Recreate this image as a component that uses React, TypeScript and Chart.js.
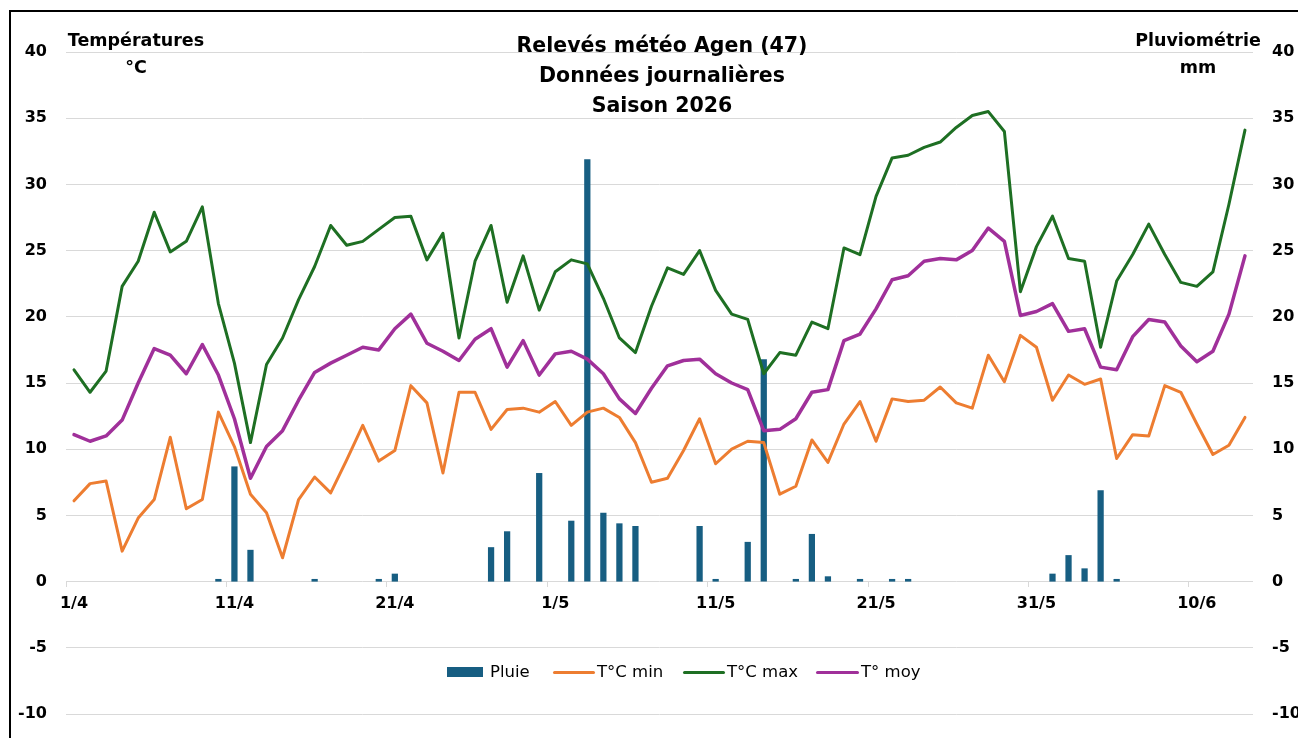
import React, { useEffect, useRef } from 'react';
import { Chart, registerables } from 'chart.js';

Chart.register(...registerables);

// Categories (one per day, 1/4 -> 13/6)
const dates = [
  '1/4', '2/4', '3/4', '4/4', '5/4', '6/4', '7/4', '8/4', '9/4', '10/4',
  '11/4', '12/4', '13/4', '14/4', '15/4', '16/4', '17/4', '18/4', '19/4', '20/4',
  '21/4', '22/4', '23/4', '24/4', '25/4', '26/4', '27/4', '28/4', '29/4', '30/4',
  '1/5', '2/5', '3/5', '4/5', '5/5', '6/5', '7/5', '8/5', '9/5', '10/5',
  '11/5', '12/5', '13/5', '14/5', '15/5', '16/5', '17/5', '18/5', '19/5', '20/5',
  '21/5', '22/5', '23/5', '24/5', '25/5', '26/5', '27/5', '28/5', '29/5', '30/5',
  '31/5', '1/6', '2/6', '3/6', '4/6', '5/6', '6/6', '7/6', '8/6', '9/6',
  '10/6', '11/6', '12/6', '13/6',
];

// Tick labels shown on the date axis
const tickLabels = ['1/4', '11/4', '21/4', '1/5', '11/5', '21/5', '31/5', '10/6'];

// Pluie (mm)
const pluie = [
  0, 0, 0, 0, 0, 0, 0, 0, 0, 0.2,
  8.7, 2.4, 0, 0, 0, 0.2, 0, 0, 0, 0.2,
  0.6, 0, 0, 0, 0, 0, 2.6, 3.8, 0, 8.2,
  0, 4.6, 31.9, 5.2, 4.4, 4.2, 0, 0, 0, 4.2,
  0.2, 0, 3.0, 16.8, 0, 0.2, 3.6, 0.4, 0, 0.2,
  0, 0.2, 0.2, 0, 0, 0, 0, 0, 0, 0,
  0, 0.6, 2.0, 1.0, 6.9, 0.2, 0, 0, 0, 0,
  0, 0, 0, 0,
];

// T°C min
const tMin = [
  6.1, 7.4, 7.6, 2.3, 4.8, 6.2, 10.9, 5.5, 6.2, 12.8,
  10.2, 6.6, 5.2, 1.8, 6.2, 7.9, 6.7, 9.2, 11.8, 9.1,
  9.9, 14.8, 13.5, 8.2, 14.3, 14.3, 11.5, 13.0, 13.1, 12.8,
  13.6, 11.8, 12.8, 13.1, 12.4, 10.5, 7.5, 7.8, 9.9, 12.3,
  8.9, 10.0, 10.6, 10.5, 6.6, 7.2, 10.7, 9.0, 11.9, 13.6,
  10.6, 13.8, 13.6, 13.7, 14.7, 13.5, 13.1, 17.1, 15.1, 18.6,
  17.7, 13.7, 15.6, 14.9, 15.3, 9.3, 11.1, 11.0, 14.8, 14.3,
  11.9, 9.6, 10.3, 12.4,
];

// T°C max
const tMax = [
  16.0, 14.3, 15.9, 22.3, 24.2, 27.9, 24.9, 25.7, 28.3, 21.0,
  16.5, 10.5, 16.4, 18.4, 21.3, 23.8, 26.9, 25.4, 25.7, 26.6,
  27.5, 27.6, 24.3, 26.3, 18.4, 24.2, 26.9, 21.1, 24.6, 20.5,
  23.4, 24.3, 24.0, 21.4, 18.4, 17.3, 20.8, 23.7, 23.2, 25.0,
  22.0, 20.2, 19.8, 15.7, 17.3, 17.1, 19.6, 19.1, 25.2, 24.7,
  29.1, 32.0, 32.2, 32.8, 33.2, 34.3, 35.2, 35.5, 34.0, 21.9,
  25.3, 27.6, 24.4, 24.2, 17.7, 22.7, 24.7, 27.0, 24.7, 22.6,
  22.3, 23.4, 28.5, 34.1,
];

// T° moy
const tMoy = [
  11.1, 10.6, 11.0, 12.2, 15.0, 17.6, 17.1, 15.7, 17.9, 15.6,
  12.3, 7.8, 10.2, 11.4, 13.7, 15.8, 16.5, 17.1, 17.7, 17.5,
  19.1, 20.2, 18.0, 17.4, 16.7, 18.3, 19.1, 16.2, 18.2, 15.6,
  17.2, 17.4, 16.8, 15.7, 13.8, 12.7, 14.6, 16.3, 16.7, 16.8,
  15.7, 15.0, 14.5, 11.4, 11.5, 12.3, 14.3, 14.5, 18.2, 18.7,
  20.6, 22.8, 23.1, 24.2, 24.4, 24.3, 25.0, 26.7, 25.7, 20.1,
  20.4, 21.0, 18.9, 19.1, 16.2, 16.0, 18.5, 19.8, 19.6, 17.8,
  16.6, 17.4, 20.2, 24.6,
];

const BLUE = '#175E82';
const ORANGE = '#ED7D31';
const GREEN = '#1E6F23';
const PURPLE = '#A0309A';
const GRID = '#D9D9D9';
const FONT = "'DejaVu Sans', sans-serif";

export default function App() {
  const ref = useRef<HTMLCanvasElement>(null);

  useEffect(() => {
    const canvas = ref.current;
    if (!canvas) return;
    const tickFont = { family: FONT, size: 16, weight: 'bold' as const };
    const chart = new Chart(canvas, {
      type: 'bar',
      data: {
        labels: dates,
        datasets: [
          {
            type: 'line',
            label: 'T° moy',
            data: tMoy,
            borderColor: PURPLE,
            backgroundColor: PURPLE,
            borderWidth: 3.5,
            pointRadius: 0,
            borderJoinStyle: 'round',
            borderCapStyle: 'round',
            yAxisID: 'y',
            order: 1,
          },
          {
            type: 'line',
            label: 'T°C max',
            data: tMax,
            borderColor: GREEN,
            backgroundColor: GREEN,
            borderWidth: 3,
            pointRadius: 0,
            borderJoinStyle: 'round',
            borderCapStyle: 'round',
            yAxisID: 'y',
            order: 2,
          },
          {
            type: 'line',
            label: 'T°C min',
            data: tMin,
            borderColor: ORANGE,
            backgroundColor: ORANGE,
            borderWidth: 3,
            pointRadius: 0,
            borderJoinStyle: 'round',
            borderCapStyle: 'round',
            yAxisID: 'y',
            order: 3,
          },
          {
            type: 'bar',
            label: 'Pluie',
            data: pluie,
            backgroundColor: BLUE,
            borderWidth: 0,
            yAxisID: 'y1',
            barPercentage: 0.39,
            categoryPercentage: 1,
            order: 4,
          },
        ],
      },
      options: {
        responsive: false,
        animation: false,
        layout: { padding: { top: 52, bottom: 24, left: 0, right: 0 } },
        plugins: {
          legend: { display: false },
          tooltip: { enabled: false },
          title: { display: false },
        },
        scales: {
          x: {
            position: { y: 0 } as any,
            offset: true,
            grid: {
              offset: true,
              drawOnChartArea: false,
              drawTicks: true,
              tickLength: 5,
              color: GRID,
              tickColor: (c: any) => (c.index % 10 === 0 ? GRID : 'rgba(0,0,0,0)'),
            },
            border: { display: false },
            ticks: {
              autoSkip: false,
              maxRotation: 0,
              minRotation: 0,
              padding: 8,
              color: '#000',
              font: tickFont,
              callback: (_v: any, idx: number) => (tickLabels.includes(dates[idx]) ? dates[idx] : ''),
            },
            afterFit: (s: any) => {
              s.height = 0;
            },
          },
          y: {
            position: 'left',
            min: -10,
            max: 40,
            ticks: { stepSize: 5, padding: 19, color: '#000', font: tickFont },
            grid: { color: GRID, lineWidth: 1, drawTicks: false },
            border: { display: false },
            afterFit: (s: any) => {
              s.width = 66;
              s.paddingTop = 0;
              s.paddingBottom = 0;
            },
          },
          y1: {
            position: 'right',
            min: -10,
            max: 40,
            ticks: { stepSize: 5, padding: 19, color: '#000', font: tickFont },
            grid: { display: false, drawTicks: false },
            border: { display: false },
            afterFit: (s: any) => {
              s.width = 45;
              s.paddingTop = 0;
              s.paddingBottom = 0;
            },
          },
        },
      },
    });
    return () => chart.destroy();
  }, []);

  const textBase: React.CSSProperties = {
    position: 'absolute',
    fontFamily: FONT,
    color: '#000',
    whiteSpace: 'nowrap',
    textAlign: 'center',
  };

  return (
    <div
      style={{
        position: 'fixed',
        left: 0,
        top: 0,
        width: 1298,
        height: 738,
        background: '#fff',
        overflow: 'hidden',
      }}
    >
      <canvas ref={ref} width={1298} height={738} style={{ position: 'absolute', left: 0, top: 0, display: 'block' }} />
      {/* outer frame */}
      <div
        style={{
          position: 'absolute',
          left: 9,
          top: 10,
          width: 1400,
          height: 800,
          borderLeft: '2px solid #000',
          borderTop: '2px solid #000',
          pointerEvents: 'none',
        }}
      />
      {/* main title */}
      <div style={{ ...textBase, left: 462, width: 400, top: 30, fontSize: 20.5, fontWeight: 'bold', lineHeight: '30px' }}>
        <div>Relevés météo Agen (47)</div>
        <div>Données journalières</div>
        <div>Saison 2026</div>
      </div>
      {/* left axis title */}
      <div style={{ ...textBase, left: 56, width: 160, top: 27, fontSize: 17.5, fontWeight: 'bold', lineHeight: '27px' }}>
        <div>Températures</div>
        <div>°C</div>
      </div>
      {/* right axis title */}
      <div style={{ ...textBase, left: 1118, width: 160, top: 27, fontSize: 17.5, fontWeight: 'bold', lineHeight: '27px' }}>
        <div>Pluviométrie</div>
        <div>mm</div>
      </div>
      {/* legend */}
      <div style={{ position: 'absolute', left: 447, top: 667, width: 36, height: 10, background: BLUE }} />
      <div style={{ ...textBase, textAlign: 'left', left: 490, top: 660, fontSize: 16.5, lineHeight: '24px' }}>Pluie</div>
      <div style={{ position: 'absolute', left: 553, top: 670.5, width: 42, height: 3, background: ORANGE, borderRadius: 2 }} />
      <div style={{ ...textBase, textAlign: 'left', left: 597, top: 660, fontSize: 16.5, lineHeight: '24px' }}>T°C min</div>
      <div style={{ position: 'absolute', left: 683, top: 670.5, width: 42, height: 3, background: GREEN, borderRadius: 2 }} />
      <div style={{ ...textBase, textAlign: 'left', left: 727, top: 660, fontSize: 16.5, lineHeight: '24px' }}>T°C max</div>
      <div style={{ position: 'absolute', left: 816, top: 670.5, width: 43, height: 3, background: PURPLE, borderRadius: 2 }} />
      <div style={{ ...textBase, textAlign: 'left', left: 861, top: 660, fontSize: 16.5, lineHeight: '24px' }}>T° moy</div>
    </div>
  );
}
